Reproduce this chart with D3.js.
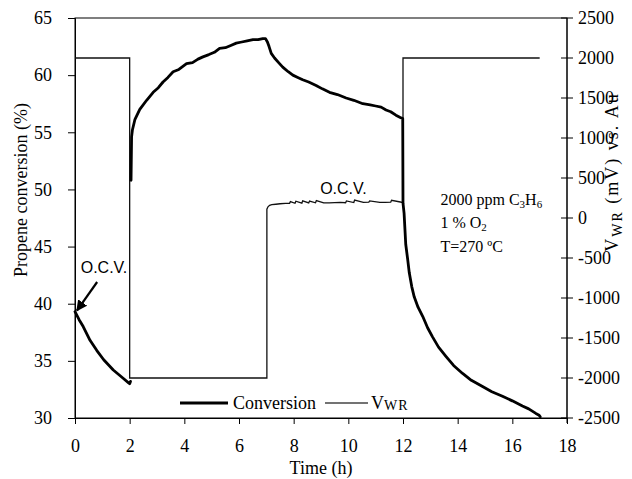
<!DOCTYPE html>
<html>
<head>
<meta charset="utf-8">
<script src="https://cdn.jsdelivr.net/npm/d3@7"></script>
<style>
  html, body { margin: 0; padding: 0; background: #fff; }
  svg { display: block; }
</style>
</head>
<body>
<svg id="chart" width="632" height="479"></svg>
<script>
// ---------------- DATA ----------------
const xTicks = [0, 2, 4, 6, 8, 10, 12, 14, 16, 18];
const yLeftTicks = [30, 35, 40, 45, 50, 55, 60, 65];
const yRightTicks = [-2500, -2000, -1500, -1000, -500, 0, 500, 1000, 1500, 2000, 2500];

// Propene conversion (%) vs time (h); null = break in the trace
const convTime = [0.00, 0.15, 0.30, 0.55, 0.80, 1.05, 1.40, 1.75, 1.95, 2.00, 2.03,
  2.04,
  2.05, 2.07, 2.10, 2.19, 2.37, 2.62, 2.86, 3.05, 3.22, 3.40, 3.59, 3.80, 4.08, 4.30, 4.50, 4.68, 4.90, 5.10, 5.29,
  5.50, 5.70, 5.90, 6.10, 6.30, 6.51, 6.70, 6.87, 6.97, 7.04, 7.10, 7.18, 7.30, 7.45, 7.60, 7.80, 7.97, 8.15,
  8.33, 8.55, 8.82, 9.05, 9.31, 9.60, 9.92, 10.20, 10.53, 10.80, 11.00, 11.20, 11.38, 11.55, 11.74, 11.90, 11.99,
  12.00, 12.04, 12.10, 12.17, 12.23, 12.32, 12.41, 12.55, 12.72, 12.90, 13.08, 13.30, 13.57, 13.85, 14.18,
  14.50, 14.91, 15.25, 15.64, 16.00, 16.37, 16.60, 16.86, 16.98, 17.02];
const convValue = [39.3, 38.6, 38.0, 36.8, 35.9, 35.1, 34.2, 33.5, 33.1, 33.0, 33.2,
  null,
  50.8, 54.6, 55.2, 56.1, 57.0, 57.8, 58.5, 58.9, 59.4, 59.8, 60.3, 60.5, 61.0, 61.1, 61.4, 61.6, 61.8, 62.0, 62.35,
  62.4, 62.6, 62.8, 62.9, 63.0, 63.1, 63.1, 63.2, 63.2, 62.9, 62.5, 61.9, 61.5, 61.1, 60.7, 60.3, 60.0, 59.8,
  59.6, 59.4, 59.1, 58.8, 58.5, 58.3, 58.0, 57.8, 57.5, 57.4, 57.3, 57.2, 56.95, 56.8, 56.5, 56.3, 56.2,
  48.8, 47.9, 45.2, 43.9, 42.7, 41.5, 40.6, 39.7, 38.9, 37.9, 37.1, 36.2, 35.4, 34.6, 33.9,
  33.3, 32.75, 32.3, 31.9, 31.5, 31.05, 30.8, 30.4, 30.25, 30.1];

// Working-electrode potential V_WR (mV) vs time (h)
const vwrTime = [0.00, 2.00, 2.00, 7.02, 7.02, 7.06, 7.12, 7.20, 7.35, 7.50, 7.70, 7.85, 7.88, 8.05, 8.08, 8.30,
  8.33, 8.55, 8.58, 8.80, 8.83, 9.10, 9.30, 9.50, 9.70, 9.90, 9.93, 10.20, 10.23, 10.55, 10.75, 10.78, 11.15,
  11.35, 11.55, 11.58, 11.95, 12.00, 12.00, 17.00];
const vwrValue = [2000, 2000, -2000, -2000, 110, 140, 158, 166, 172, 178, 182, 184, 205, 184, 210, 186, 215,
  188, 212, 190, 218, 189, 190, 192, 195, 191, 214, 193, 225, 196, 198, 214, 195,
  196, 198, 222, 197, 195, 2000, 2000];

const legendLabels = ["Conversion", "V"];

// ---------------- CHART ----------------
const svg = d3.select("#chart");
const W = 632, H = 479;
const m = { left: 75, right: 65, top: 18, bottom: 61 };
const x0 = m.left, x1 = W - m.right, yTop = m.top, yBot = H - m.bottom;

svg.append("rect").attr("width", W).attr("height", H).attr("fill", "#fff");

const x = d3.scaleLinear().domain([0, 18]).range([x0, x1]);
const yL = d3.scaleLinear().domain([30, 65]).range([yBot, yTop]);
const yR = d3.scaleLinear().domain([-2500, 2500]).range([yBot, yTop]);

const serif = "'Liberation Serif', 'Times New Roman', serif";
const sans = "'Liberation Sans', Arial, sans-serif";

// frame
svg.append("rect")
  .attr("x", x0).attr("y", yTop).attr("width", x1 - x0).attr("height", yBot - yTop)
  .attr("fill", "none").attr("stroke", "#000").attr("stroke-width", 1);

// left axis
const gL = svg.append("g").attr("transform", `translate(${x0},0)`)
  .call(d3.axisLeft(yL).tickValues(yLeftTicks).tickSize(7).tickPadding(16).tickFormat(d3.format("d")));
gL.select(".domain").attr("stroke", "#000");
gL.selectAll("text").attr("font-family", serif).attr("font-size", 18).attr("fill", "#000");

// right axis (ticks cross the axis)
const gR = svg.append("g").attr("transform", `translate(${x1},0)`);
gR.append("line").attr("y1", yTop).attr("y2", yBot + 5).attr("stroke", "#000");
const rt = gR.selectAll("g.t").data(yRightTicks).join("g").attr("class", "t")
  .attr("transform", d => `translate(0,${yR(d)})`);
rt.append("line").attr("x1", -6).attr("x2", 6).attr("stroke", "#000");
rt.append("text").attr("x", 11).attr("dy", "0.32em")
  .attr("font-family", serif).attr("font-size", 18).attr("fill", "#000")
  .text(d => d < 0 ? "-" + Math.abs(d) : String(d));

// bottom axis
const gB = svg.append("g").attr("transform", `translate(0,${yBot})`)
  .call(d3.axisBottom(x).tickValues(xTicks).tickSize(6).tickPadding(15).tickFormat(d3.format("d")));
gB.select(".domain").attr("stroke", "#000");
gB.selectAll("text").attr("font-family", serif).attr("font-size", 18).attr("fill", "#000");

// axis titles
svg.append("text").attr("x", (x0 + x1) / 2).attr("y", 474).attr("text-anchor", "middle")
  .attr("font-family", serif).attr("font-size", 18).text("Time (h)");
svg.append("text").attr("transform", "translate(27,190) rotate(-90)").attr("text-anchor", "middle")
  .attr("font-family", serif).attr("font-size", 18).text("Propene conversion (%)");
const rTitle = svg.append("text").attr("transform", "translate(618,172) rotate(-90)").attr("text-anchor", "middle")
  .attr("font-family", serif).attr("font-size", 18).attr("letter-spacing", 2);
rTitle.append("tspan").text("V");
rTitle.append("tspan").attr("font-size", 14).attr("dy", 4).text("WR");
rTitle.append("tspan").attr("dy", -4).text(" (mV) vs. Au");

// V_WR series
const vData = vwrTime.map((t, i) => [t, vwrValue[i]]);
svg.append("path").datum(vData)
  .attr("fill", "none").attr("stroke", "#111").attr("stroke-width", 1.3)
  .attr("d", d3.line().x(d => x(d[0])).y(d => yR(d[1])));

// Conversion series
const cData = convTime.map((t, i) => [t, convValue[i]]);
svg.append("path").datum(cData)
  .attr("fill", "none").attr("stroke", "#000").attr("stroke-width", 2.8)
  .attr("stroke-linejoin", "round").attr("stroke-linecap", "round")
  .attr("d", d3.line().defined(d => d[1] !== null).x(d => x(d[0])).y(d => yL(d[1])));

// annotations
svg.append("defs").append("marker").attr("id", "arr")
  .attr("viewBox", "0 0 10 10").attr("refX", 9).attr("refY", 5)
  .attr("markerWidth", 5).attr("markerHeight", 5).attr("orient", "auto")
  .append("path").attr("d", "M0,0 L10,5 L0,10 z").attr("fill", "#000");
svg.append("line")
  .attr("x1", x(0.81)).attr("y1", yL(41.9)).attr("x2", x(0.07)).attr("y2", yL(39.4))
  .attr("stroke", "#000").attr("stroke-width", 2.2).attr("marker-end", "url(#arr)");
svg.append("text").attr("x", x(1.06)).attr("y", yL(42.7)).attr("text-anchor", "middle")
  .attr("font-family", sans).attr("font-size", 16).text("O.C.V.");
svg.append("text").attr("x", x(9.82)).attr("y", yL(49.6)).attr("text-anchor", "middle")
  .attr("font-family", sans).attr("font-size", 16).text("O.C.V.");

const note = svg.append("g").attr("font-family", serif).attr("font-size", 16).attr("fill", "#000");
const n1 = note.append("text").attr("x", x(13.37)).attr("y", yL(48.6));
n1.append("tspan").text("2000 ppm C");
n1.append("tspan").attr("font-size", 11).attr("dy", 3).text("3");
n1.append("tspan").attr("dy", -3).text("H");
n1.append("tspan").attr("font-size", 11).attr("dy", 3).text("6");
const n2 = note.append("text").attr("x", x(13.37)).attr("y", yL(46.6));
n2.append("tspan").text("1 % O");
n2.append("tspan").attr("font-size", 11).attr("dy", 3).text("2");
note.append("text").attr("x", x(13.37)).attr("y", yL(44.55)).text("T=270 ºC");

// legend
const lg = svg.append("g").attr("font-family", serif).attr("font-size", 18);
lg.append("line").attr("x1", 180).attr("x2", 228).attr("y1", 403).attr("y2", 403)
  .attr("stroke", "#000").attr("stroke-width", 2.8);
lg.append("text").attr("x", 233).attr("y", 409).text(legendLabels[0]);
lg.append("line").attr("x1", 325).attr("x2", 368).attr("y1", 403).attr("y2", 403)
  .attr("stroke", "#444").attr("stroke-width", 1.3);
const lv = lg.append("text").attr("x", 371).attr("y", 409);
lv.append("tspan").text(legendLabels[1]);
lv.append("tspan").attr("font-size", 14).attr("dy", 1).attr("letter-spacing", 1).text("WR");
</script>
</body>
</html>
